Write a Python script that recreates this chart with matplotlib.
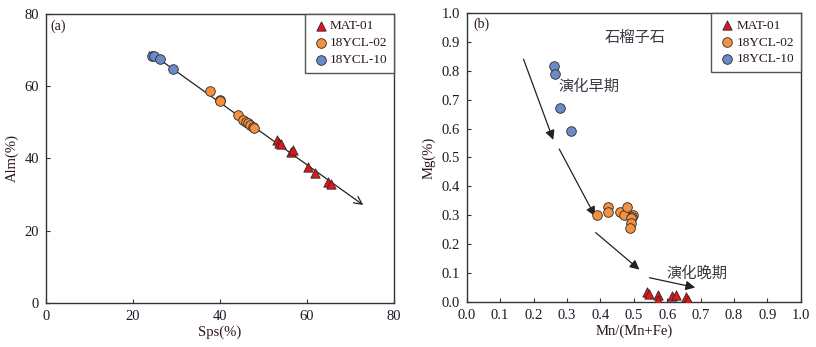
import matplotlib
matplotlib.use("Agg")
import matplotlib.pyplot as plt

plt.rcParams['font.family'] = ['Liberation Serif', 'Noto Sans CJK SC', 'DejaVu Sans']

# ---- Panel (a): Sps vs Alm ----
a_blue_sps = [24.4, 24.9, 26.3, 29.3]
a_blue_alm = [68.2, 68.4, 67.5, 64.6]
a_orange_sps = [37.7, 40.0, 40.1, 44.1, 45.3, 45.9, 46.5, 47.0, 47.6, 47.8]
a_orange_alm = [58.6, 56.1, 55.9, 51.9, 50.6, 50.0, 49.7, 49.1, 48.7, 48.3]
a_red_sps = [53.1, 53.6, 54.1, 56.2, 56.8, 60.3, 61.9, 64.9, 65.4]
a_red_alm = [45.1, 44.3, 44.0, 41.8, 42.3, 37.7, 36.0, 33.5, 32.9]
a_arrow = [(23.7, 69.4), (72.9, 27.1)]
a_ticks = [0, 20, 40, 60, 80]

# ---- Panel (b): Mn/(Mn+Fe) vs Mg ----
b_blue_x = [0.261, 0.263, 0.279, 0.311]
b_blue_y = [0.815, 0.788, 0.672, 0.593]
b_orange_x = [0.390, 0.424, 0.424, 0.458, 0.472, 0.481, 0.499, 0.494, 0.492, 0.491, 0.489]
b_orange_y = [0.301, 0.329, 0.312, 0.313, 0.301, 0.327, 0.301, 0.295, 0.292, 0.274, 0.256]
b_red_x = [0.541, 0.547, 0.572, 0.572, 0.615, 0.626, 0.655, 0.661]
b_red_y = [0.033, 0.029, 0.023, 0.008, 0.020, 0.023, 0.017, 0.006]
b_arrows = [((0.170, 0.840), (0.259, 0.561)),
            ((0.277, 0.529), (0.384, 0.297)),
            ((0.386, 0.240), (0.517, 0.112)),
            ((0.547, 0.084), (0.684, 0.050))]
b_ticks = [0.0, 0.1, 0.2, 0.3, 0.4, 0.5, 0.6, 0.7, 0.8, 0.9, 1.0]

series_names = ['MAT-01', '18YCL-02', '18YCL-10']
c_red = '#e4141c'
c_orange = '#f39140'
c_blue = '#6a8bc8'
edge = '#2a2a2a'
label_col = '#2a1616'
tick_col = '#1a1a2a'
cjk_col = '#3a3a44'

fig = plt.figure(figsize=(8.16, 3.47), dpi=100)
axA = fig.add_axes([0.0564, 0.1268, 0.4265, 0.834])
axB = fig.add_axes([0.572, 0.1297, 0.4093, 0.833])


def style(ax):
    for s in ax.spines.values():
        s.set_color('#333333')
        s.set_linewidth(1.0)
    ax.tick_params(direction='in', length=3, width=0.8, colors='#333333',
                   labelcolor=tick_col, labelsize=10.5, pad=5)


def draw_points(ax, rx, ry, ox, oy, bx, by):
    h1 = ax.scatter(rx, ry, marker='^', s=45, c=c_red, edgecolors=edge, linewidths=0.6, zorder=5)
    h2 = ax.scatter(ox, oy, marker='o', s=48, c=c_orange, edgecolors=edge, linewidths=0.6, zorder=4)
    h3 = ax.scatter(bx, by, marker='o', s=48, c=c_blue, edgecolors=edge, linewidths=0.6, zorder=4)
    leg = ax.legend([h1, h2, h3], series_names, loc='upper right', bbox_to_anchor=(1.0, 1.0),
                    fancybox=False, framealpha=1, edgecolor='#555555', fontsize=9.5,
                    handletextpad=0.0, borderpad=0.5, labelspacing=0.35, handlelength=1.4,
                    borderaxespad=0)
    leg.get_frame().set_linewidth(1.0)
    for t in leg.get_texts():
        t.set_color(label_col)


# Panel (a)
style(axA)
axA.set_xlim(0, 80)
axA.set_ylim(0, 80)
axA.set_xticks(a_ticks)
axA.set_yticks(a_ticks)
axA.annotate('', xy=a_arrow[1], xytext=a_arrow[0],
             arrowprops=dict(arrowstyle='->', color='#222222', lw=0.9,
                             mutation_scale=14, shrinkA=0, shrinkB=0), zorder=3)
draw_points(axA, a_red_sps, a_red_alm, a_orange_sps, a_orange_alm, a_blue_sps, a_blue_alm)
axA.text(2.8, 76.6, '(a)', fontsize=10, color=label_col, va='center', ha='center')
axA.set_xlabel('Sps(%)', fontsize=10.5, color=label_col, labelpad=2)
axA.set_ylabel('Alm(%)', fontsize=10.5, color=label_col, labelpad=4)

# Panel (b)
style(axB)
axB.set_xlim(0, 1.0)
axB.set_ylim(0, 1.0)
axB.set_xticks(b_ticks)
axB.set_yticks(b_ticks)
axB.set_xticklabels([f'{t:.1f}' for t in b_ticks])
axB.set_yticklabels([f'{t:.1f}' for t in b_ticks])
for (s, e) in b_arrows:
    axB.annotate('', xy=e, xytext=s,
                 arrowprops=dict(arrowstyle='-|>', color='#222222', lw=0.9,
                                 mutation_scale=14, shrinkA=0, shrinkB=0), zorder=3)
draw_points(axB, b_red_x, b_red_y, b_orange_x, b_orange_y, b_blue_x, b_blue_y)
axB.text(0.045, 0.96, '(b)', fontsize=10, color=label_col, va='center', ha='center')
axB.text(0.504, 0.916, '石榴子石', fontsize=11, color=cjk_col, va='center', ha='center',
         family=['Noto Sans CJK SC'])
axB.text(0.366, 0.746, '演化早期', fontsize=11, color=cjk_col, va='center', ha='center',
         family=['Noto Sans CJK SC'])
axB.text(0.689, 0.100, '演化晚期', fontsize=11, color=cjk_col, va='center', ha='center',
         family=['Noto Sans CJK SC'])
axB.set_xlabel('Mn/(Mn+Fe)', fontsize=10.5, color=label_col, labelpad=2)
axB.set_ylabel('Mg(%)', fontsize=10.5, color=label_col, labelpad=4)

fig.savefig('out.png', dpi=100)
